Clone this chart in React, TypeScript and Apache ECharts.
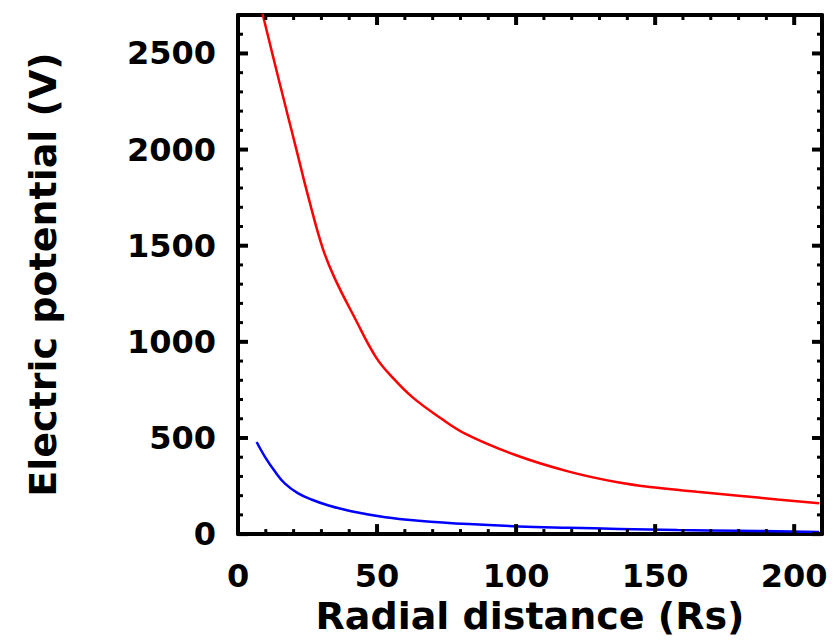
import React, { useEffect, useRef } from "react";
import * as echarts from "echarts";

const redR = [6.5, 9, 12.5, 16.5, 21, 25.5, 30.5, 34.8, 42, 49.7, 55.6, 62.8, 72.4, 82, 100, 119, 137, 150, 165, 180, 194, 209];
const redV = [2840, 2696, 2490, 2258, 2000, 1742, 1485, 1330, 1124, 918, 814, 711, 608, 520, 410, 325, 268, 242, 220, 200, 180, 160];

const blueR = [6.7, 9.7, 13.3, 16.8, 21.5, 26.4, 32.3, 40.7, 53, 65, 83, 101, 119, 137, 158, 180, 194, 209];
const blueV = [479, 402, 325, 264, 213, 180, 150, 119, 88, 70, 52, 40, 33, 27, 21, 17, 15, 11];

const xName = "Radial distance (Rs)";
const yName = "Electric potential (V)";

const X_MIN = 0;
const X_MAX = 210;
const X_MAJOR = 50;
const X_MINOR = 10;
const Y_MIN = 0;
const Y_MAX = 2700;
const Y_MAJOR = 500;
const Y_MINOR = 100;

const FONT = "DejaVu Sans";

export default function App() {
  const ref = useRef<HTMLDivElement>(null);
  useEffect(() => {
    if (!ref.current) return;
    const chart = echarts.init(ref.current, undefined, { renderer: "svg" });
    const line = { show: true, onZero: false, lineStyle: { color: "#000", width: 4 } };
    const labelStyle = {
      color: "#000",
      fontFamily: FONT,
      fontWeight: "bold",
      fontSize: 32,
      formatter: (v: number) => String(v),
    };
    const xBase = {
      type: "value",
      min: X_MIN,
      max: X_MAX,
      interval: X_MAJOR,
      splitLine: { show: false },
      axisLine: line,
      axisTick: { show: false },
      minorTick: { show: false },
    };
    const yBase = {
      type: "value",
      min: Y_MIN,
      max: Y_MAX,
      interval: Y_MAJOR,
      splitLine: { show: false },
      axisLine: line,
      axisTick: { show: false },
      minorTick: { show: false },
    };

    chart.setOption({
      animation: false,
      grid: { left: 238, right: 18, top: 15, bottom: 102, containLabel: false },
      xAxis: [
        {
          ...xBase,
          position: "bottom",
          axisLabel: { show: true, margin: 26, showMaxLabel: false, ...labelStyle },
          name: xName,
          nameLocation: "middle",
          nameGap: 62,
          nameTextStyle: { color: "#000", fontFamily: FONT, fontWeight: "bold", fontSize: 38 },
        },
        { ...xBase, position: "top", axisLabel: { show: false } },
      ],
      yAxis: [
        {
          ...yBase,
          position: "left",
          axisLabel: { show: true, margin: 22, showMaxLabel: false, ...labelStyle },
          name: yName,
          nameLocation: "middle",
          nameGap: 176,
          nameTextStyle: { color: "#000", fontFamily: FONT, fontWeight: "bold", fontSize: 38 },
        },
        { ...yBase, position: "right", axisLabel: { show: false } },
      ],
      series: [
        {
          type: "line",
          xAxisIndex: 0,
          yAxisIndex: 0,
          data: redR.map((r, i) => [r, redV[i]]),
          showSymbol: false,
          smooth: 0.4,
          clip: true,
          lineStyle: { color: "#ff0000", width: 2.5 },
          z: 3,
        },
        {
          type: "line",
          xAxisIndex: 0,
          yAxisIndex: 0,
          data: blueR.map((r, i) => [r, blueV[i]]),
          showSymbol: false,
          smooth: 0.4,
          clip: true,
          lineStyle: { color: "#0000ff", width: 2.5 },
          z: 3,
        },
      ],
    });

    // Inward ticks on all four edges as small filled rectangles,
    // positioned through the chart's own axis scales.
    try {
      const finder = { xAxisIndex: 0, yAxisIndex: 0 };
      const els: any[] = [];
      const box = (x: number, y: number, w: number, h: number) => {
        if ([x, y, w, h].some((n) => !isFinite(n))) return;
        els.push({
          type: "rect",
          silent: true,
          z: 100,
          shape: { x, y, width: w, height: h },
          style: { fill: "#000" },
        });
      };
      for (let v = X_MIN; v < X_MAX; v += X_MINOR) {
        const major = v % X_MAJOR === 0;
        const len = major ? 10 : 5;
        const w = major ? 4 : 3;
        const b = chart.convertToPixel(finder as any, [v, Y_MIN]) as number[];
        const t = chart.convertToPixel(finder as any, [v, Y_MAX]) as number[];
        if (b && t) {
          box(b[0] - w / 2, b[1] - len, w, len);
          box(t[0] - w / 2, t[1], w, len);
        }
      }
      for (let v = Y_MIN; v < Y_MAX; v += Y_MINOR) {
        const major = v % Y_MAJOR === 0;
        const len = major ? 10 : 5;
        const w = major ? 4 : 3;
        const l = chart.convertToPixel(finder as any, [X_MIN, v]) as number[];
        const r = chart.convertToPixel(finder as any, [X_MAX, v]) as number[];
        if (l && r) {
          box(l[0], l[1] - w / 2, len, w);
          box(r[0] - len, r[1] - w / 2, len, w);
        }
      }
      if (els.length) chart.setOption({ graphic: { elements: els } });
    } catch (e) {
      // keep the chart as drawn if tick placement fails
    }
    return () => chart.dispose();
  }, []);
  return <div ref={ref} style={{ width: 840, height: 640, position: "absolute", left: 0, top: 0, background: "#fff" }} />;
}
